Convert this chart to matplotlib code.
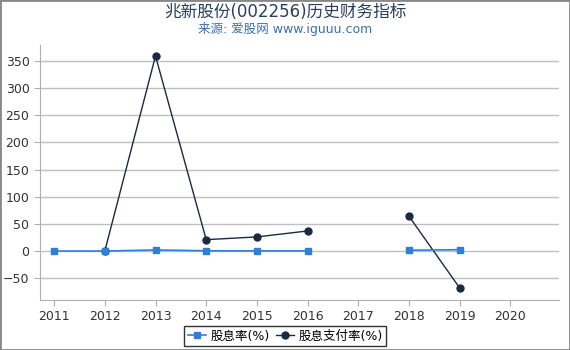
import matplotlib.pyplot as plt
import numpy as np

plt.rcParams['font.family'] = ['DejaVu Sans', 'Noto Sans CJK SC']

years = [2011, 2012, 2013, 2014, 2015, 2016, 2017, 2018, 2019]
dividend_yield = [0.0, 0.0, 2.0, 0.5, 0.3, 0.3, np.nan, 1.5, 2.5]
payout_ratio = [np.nan, 0.0, 359.0, 21.0, 26.0, 37.0, np.nan, 64.0, -68.0]
xticks = list(range(2011, 2021))

fig = plt.figure(figsize=(5.7, 3.5), dpi=100)
ax = fig.add_axes([0.07, 0.143, 0.91, 0.728])

ax.plot(years, payout_ratio, color='#1a2a40', lw=1, marker='o', ms=5,
        label='股息支付率(%)', zorder=3)
ax.plot(years, dividend_yield, color='#2f7fd6', lw=1.2, marker='s', ms=5,
        label='股息率(%)', zorder=4)

ax.set_xlim(2010.72, 2020.95)
ax.set_ylim(-90, 379)
ax.set_xticks(xticks)
ax.set_yticks(range(-50, 351, 50))
ax.grid(axis='y', color='#c0c0c0', lw=1)
ax.set_axisbelow(True)
for s in ['top', 'right']:
    ax.spines[s].set_visible(False)
for s in ['left', 'bottom']:
    ax.spines[s].set_color('#b0b0b0')
ax.tick_params(colors='#b0b0b0', labelcolor='#333333', labelsize=9, length=4)

fig.text(0.5, 0.965, '兆新股份(002256)历史财务指标', ha='center', va='center',
         fontsize=12, color='#2a3f5a')
fig.text(0.5, 0.918, '来源: 爱股网 www.iguuu.com', ha='center', va='center',
         fontsize=9, color='#3a70a8')

h, l = ax.get_legend_handles_labels()
leg = fig.legend(h[::-1], l[::-1], loc='center', bbox_to_anchor=(0.5, 0.04), ncol=2,
                 fontsize=9, frameon=True, fancybox=False, handlelength=1.5,
                 handletextpad=0.3, columnspacing=0.5, borderpad=0.3)
leg.get_frame().set_edgecolor('black')
leg.get_frame().set_linewidth(1)

fig.patches.append(plt.Rectangle((0, 0), 1, 1, transform=fig.transFigure,
                                 fill=False, edgecolor='#888888', lw=2))

fig.savefig('out.png', dpi=100)
